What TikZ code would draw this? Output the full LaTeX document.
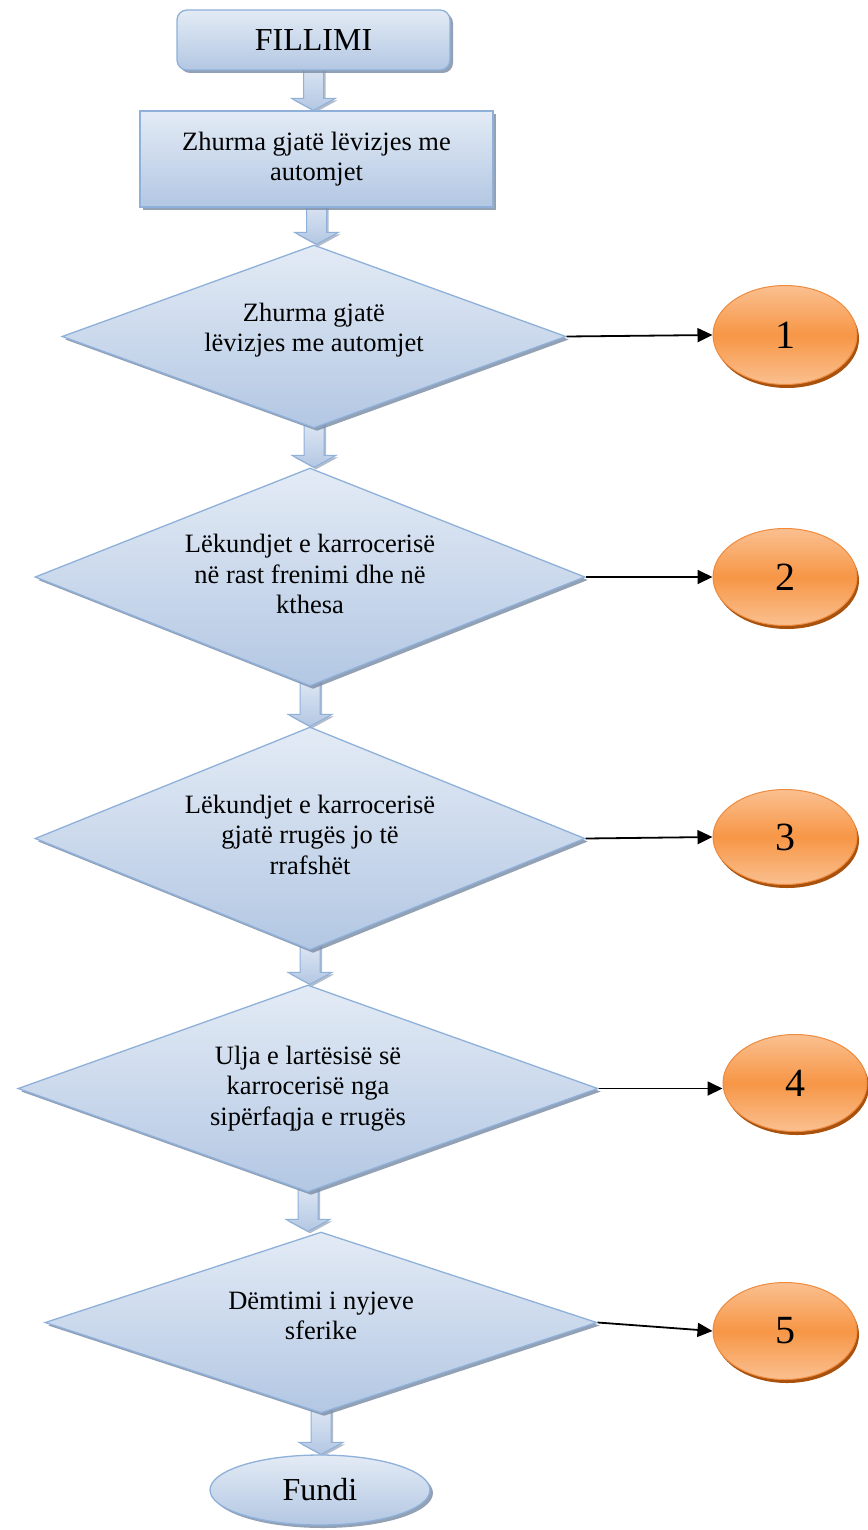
\documentclass[tikz,border=0pt]{standalone}
\usepackage{fontspec}
\setmainfont{Liberation Serif}
\usetikzlibrary{shapes.geometric,shadows,calc,arrows.meta,backgrounds}
\definecolor{bfillA}{HTML}{E3EBF5}
\definecolor{bfillB}{HTML}{B3C7E3}
\definecolor{bdraw}{HTML}{8EB0D9}
\definecolor{bshadow}{HTML}{8090A8}
\definecolor{ofillA}{HTML}{FAC090}
\definecolor{ofillB}{HTML}{F79646}
\definecolor{odraw}{HTML}{EE8B3E}
\definecolor{oshadow}{HTML}{A9520E}
\newcommand\blockarrow[2]{%
  \path[barrow] let \p1=(#1.south), \p2=(#2.north) in
    (\x1-10pt,\y1+12pt) -- (\x1+10pt,\y1+12pt) -- (\x1+10pt,\y2+12pt) --
    (\x1+22pt,\y2+12pt) -- (\x1,\y2) -- (\x1-22pt,\y2+12pt) --
    (\x1-10pt,\y2+12pt) -- cycle;}
\begin{document}
\begin{tikzpicture}[x=1pt,y=-1pt,
  bshape/.style={draw=bdraw, line width=1.3pt, top color=bfillA, bottom color=bfillB,
    drop shadow={shadow xshift=3pt, shadow yshift=-3pt, fill=bshadow, opacity=0.85},
    align=center, inner sep=0pt, font=\fontsize{26.5}{30.5}\selectfont},
  dia/.style={bshape, diamond, aspect=2.7},
  oval/.style={ellipse, draw=odraw, line width=1pt, top color=ofillA, bottom color=ofillA, middle color=ofillB,
    drop shadow={shadow xshift=2pt, shadow yshift=-3.5pt, fill=oshadow, opacity=1},
    minimum width=144pt, minimum height=97pt, inner sep=0pt, font=\fontsize{40}{44}\selectfont},
  barrow/.style={draw=bdraw, line width=1pt, top color=bfillA, bottom color=bfillB,
    drop shadow={shadow xshift=2pt, shadow yshift=-2pt, fill=bshadow, opacity=0.6}},
  link/.style={draw=black, line width=1.8pt, -{Triangle[length=15pt,width=14pt]}}
]
\useasboundingbox (0,0) rectangle (867,1530);

\node[bshape, rounded corners=10pt, minimum width=273pt, minimum height=60pt,
  font=\fontsize{32}{36}\selectfont] (start) at (313.5,40) {FILLIMI};
\node[bshape, minimum width=353pt, minimum height=96pt] (box) at (316.5,159)
  {Zhurma gjatë lëvizjes me\\automjet};

\node[dia, minimum width=504pt, minimum height=183pt, text depth=18pt] (d1) at (314,336.5)
  {Zhurma gjatë\\lëvizjes me automjet};
\node[dia, minimum width=550pt, minimum height=218pt, text depth=6pt] (d2) at (310,577)
  {Lëkundjet e karrocerisë\\në rast frenimi dhe në\\kthesa};
\node[dia, minimum width=550pt, minimum height=223pt, text depth=8pt] (d3) at (310,838.5)
  {Lëkundjet e karrocerisë\\gjatë rrugës jo të\\rrafshët};
\node[dia, minimum width=580pt, minimum height=207pt] (d4) at (308,1088.5)
  {Ulja e lartësisë së\\karrocerisë nga\\sipërfaqja e rrugës};
\node[dia, minimum width=552pt, minimum height=181pt, text depth=14pt] (d5) at (321,1322.5)
  {Dëmtimi i nyjeve\\sferike};

\node[bshape, ellipse, minimum width=220pt, minimum height=70pt,
  font=\fontsize{32}{36}\selectfont] (end) at (320,1490) {Fundi};

\node[oval, minimum height=99pt] (e1) at (785,335) {1};
\node[oval] (e2) at (785,577) {2};
\node[oval, minimum height=95pt] (e3) at (785,837) {3};
\node[oval] (e4) at (795,1083) {4};
\node[oval] (e5) at (785,1331) {5};

\begin{scope}[on background layer]
\blockarrow{start}{box}
\blockarrow{box}{d1}
\blockarrow{d1}{d2}
\blockarrow{d2}{d3}
\blockarrow{d3}{d4}
\blockarrow{d4}{d5}
\blockarrow{d5}{end}
\end{scope}

\draw[link] (d1.east) -- (e1.west);
\draw[link] (d2.east) -- (e2.west);
\draw[link] (d3.east) -- (e3.west);
\draw[link] (d4.east) -- (d4.east -| e4.west);
\draw[link] (d5.east) -- (e5.west);
\end{tikzpicture}
\end{document}
